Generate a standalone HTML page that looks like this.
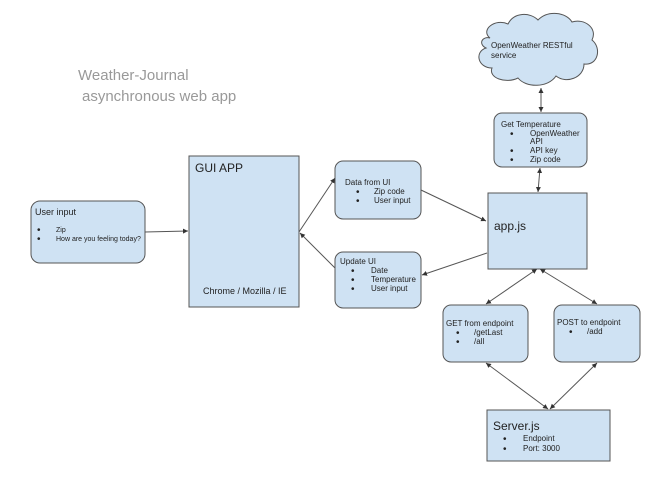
<!DOCTYPE html>
<html><head><style>
body{margin:0;background:#fff;}
svg{display:block;font-family:"Liberation Sans",Arial,sans-serif;}
.b{font-size:10px;}
</style></head><body>
<svg width="669" height="480" viewBox="0 0 669 480" xmlns="http://www.w3.org/2000/svg">
<defs>
<marker id="a" markerWidth="6" markerHeight="6" refX="5" refY="3" orient="auto-start-reverse" markerUnits="userSpaceOnUse">
<path d="M0,0.5 L5,3 L0,5.5 z" fill="#333"/></marker>
</defs>
<g fill="#cfe2f3" stroke="#555" stroke-width="1">
<rect x="31" y="201" width="114" height="62" rx="9"/>
<rect x="189" y="156" width="110" height="151"/>
<rect x="335" y="161" width="86" height="58" rx="8"/>
<rect x="335" y="252" width="86" height="56" rx="8"/>
<rect x="488" y="193" width="99" height="76"/>
<rect x="494" y="113" width="93" height="54" rx="8"/>
<rect x="443" y="305" width="85" height="57" rx="8"/>
<rect x="554" y="305" width="86" height="57" rx="8"/>
<rect x="487" y="410" width="123" height="51"/>
<path d="M490,38 C480,30 495,18 508,24 C514,12 530,12 538,20 C548,10 566,12 572,22 C584,18 598,28 592,40 C602,48 598,66 584,64 C584,78 566,84 556,76 C548,88 526,88 518,78 C506,84 488,78 492,68 C478,68 474,52 486,48 C478,44 482,36 490,38 Z"/>
</g>
<g stroke="#555" stroke-width="1" fill="none">
<line x1="145" y1="232" x2="188" y2="231" marker-end="url(#a)"/>
<line x1="299" y1="232" x2="335" y2="178" marker-end="url(#a)"/>
<line x1="335" y1="268" x2="300" y2="233" marker-end="url(#a)"/>
<line x1="421" y1="190" x2="486" y2="221" marker-end="url(#a)"/>
<line x1="487" y1="253" x2="422" y2="275" marker-end="url(#a)"/>
<line x1="540" y1="168" x2="538" y2="192" marker-start="url(#a)" marker-end="url(#a)"/>
<line x1="541" y1="88" x2="541" y2="112" marker-start="url(#a)" marker-end="url(#a)"/>
<line x1="537" y1="269" x2="486" y2="304" marker-start="url(#a)" marker-end="url(#a)"/>
<line x1="540" y1="269" x2="597" y2="304" marker-start="url(#a)" marker-end="url(#a)"/>
<line x1="486" y1="363" x2="548" y2="409" marker-start="url(#a)" marker-end="url(#a)"/>
<line x1="597" y1="363" x2="550" y2="409" marker-start="url(#a)" marker-end="url(#a)"/>
</g>
<g fill="#999" font-size="15">
<text x="78" y="80">Weather-Journal</text>
<text x="82" y="101">asynchronous web app</text>
</g>
<g fill="#222" font-size="8">
<text x="35" y="215" font-size="9">User input</text>
<text x="37" y="233" class="b">•</text><text x="56" y="232" font-size="7">Zip</text>
<text x="37" y="242" class="b">•</text><text x="56" y="241" font-size="7">How are you feeling today?</text>
<text x="195" y="172" font-size="12">GUI APP</text>
<text x="203" y="294" font-size="9">Chrome / Mozilla / IE</text>
<text x="345" y="185">Data from UI</text>
<text x="356" y="195" class="b">•</text><text x="374" y="194">Zip code</text>
<text x="356" y="204" class="b">•</text><text x="374" y="203">User input</text>
<text x="340" y="264">Update UI</text>
<text x="351" y="274" class="b">•</text><text x="371" y="273">Date</text>
<text x="351" y="283" class="b">•</text><text x="371" y="282">Temperature</text>
<text x="351" y="292" class="b">•</text><text x="371" y="291">User input</text>
<text x="494" y="230" font-size="12">app.js</text>
<text x="501" y="127">Get Temperature</text>
<text x="510" y="137" class="b">•</text><text x="530" y="136">OpenWeather</text>
<text x="530" y="144">API</text>
<text x="510" y="154" class="b">•</text><text x="530" y="153">API key</text>
<text x="510" y="163" class="b">•</text><text x="530" y="162">Zip code</text>
<text x="491" y="48">OpenWeather RESTful</text>
<text x="491" y="58">service</text>
<text x="446" y="326">GET from endpoint</text>
<text x="456" y="336" class="b">•</text><text x="474" y="335">/getLast</text>
<text x="456" y="345" class="b">•</text><text x="474" y="344">/all</text>
<text x="557" y="325">POST to endpoint</text>
<text x="569" y="335" class="b">•</text><text x="587" y="334">/add</text>
<text x="493" y="430" font-size="12">Server.js</text>
<text x="503" y="442" class="b">•</text><text x="523" y="441">Endpoint</text>
<text x="503" y="452" class="b">•</text><text x="523" y="451">Port: 3000</text>
</g>
</svg>
</body></html>
